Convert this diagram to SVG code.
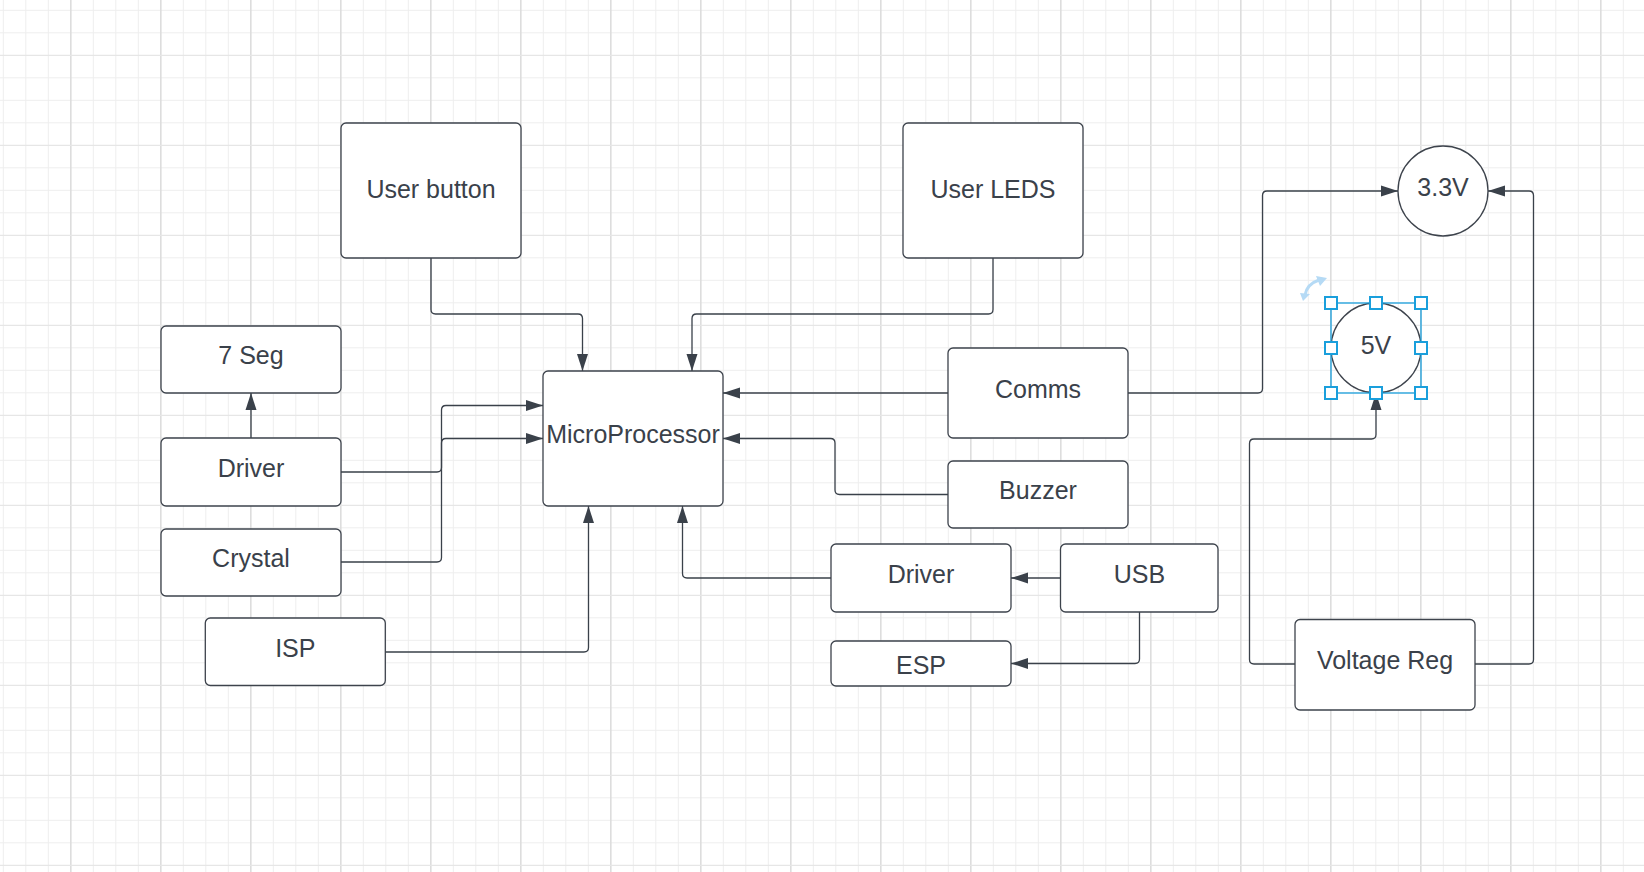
<svg xmlns="http://www.w3.org/2000/svg" width="1644" height="872" viewBox="0 0 1644 872">
<style>
.minor{stroke:#eeeeee;stroke-width:1;fill:none}
.major{stroke:#dddddd;stroke-width:1.6;fill:none}
.hmajor{stroke:#e6e6e6;stroke-width:1.3;fill:none}
.box{fill:#ffffff;stroke:#3d434c;stroke-width:1.3}
.lbl{font-family:"Liberation Sans",Arial,sans-serif;font-size:25px;fill:#3a414a;text-anchor:middle}
.edge{fill:none;stroke:#3a414a;stroke-width:1.3;marker-end:url(#arr)}
.sel{fill:none;stroke:#1a9fdc;stroke-width:1.3}
.hdl{fill:#ffffff;stroke:#1a9fdc;stroke-width:2}
</style>
<defs>
<marker id="arr" markerUnits="userSpaceOnUse" markerWidth="18" markerHeight="12" refX="17" refY="6" orient="auto">
<path d="M0,0.5 L17,6 L0,11.5 Z" fill="#3a414a"/>
</marker>
</defs>
<rect x="0" y="0" width="1644" height="872" fill="#ffffff"/>
<g id="grid">
<path class="minor" d="M3.3,0V872M25.8,0V872M48.3,0V872M93.3,0V872M115.8,0V872M138.3,0V872M183.3,0V872M205.8,0V872M228.3,0V872M273.3,0V872M295.8,0V872M318.3,0V872M363.3,0V872M385.8,0V872M408.3,0V872M453.3,0V872M475.8,0V872M498.3,0V872M543.3,0V872M565.8,0V872M588.3,0V872M633.3,0V872M655.8,0V872M678.3,0V872M723.3,0V872M745.8,0V872M768.3,0V872M813.3,0V872M835.8,0V872M858.3,0V872M903.3,0V872M925.8,0V872M948.3,0V872M993.3,0V872M1015.8,0V872M1038.3,0V872M1083.3,0V872M1105.8,0V872M1128.3,0V872M1173.3,0V872M1195.8,0V872M1218.3,0V872M1263.3,0V872M1285.8,0V872M1308.3,0V872M1353.3,0V872M1375.8,0V872M1398.3,0V872M1443.3,0V872M1465.8,0V872M1488.3,0V872M1533.3,0V872M1555.8,0V872M1578.3,0V872M1623.3,0V872"/>
<path class="minor" d="M0,10.3H1644M0,32.8H1644M0,77.8H1644M0,100.3H1644M0,122.8H1644M0,167.8H1644M0,190.3H1644M0,212.8H1644M0,257.8H1644M0,280.3H1644M0,302.8H1644M0,347.8H1644M0,370.3H1644M0,392.8H1644M0,437.8H1644M0,460.3H1644M0,482.8H1644M0,527.8H1644M0,550.3H1644M0,572.8H1644M0,617.8H1644M0,640.3H1644M0,662.8H1644M0,707.8H1644M0,730.3H1644M0,752.8H1644M0,797.8H1644M0,820.3H1644M0,842.8H1644"/>
<path class="major" d="M70.8,0V872M160.8,0V872M250.8,0V872M340.8,0V872M430.8,0V872M520.8,0V872M610.8,0V872M700.8,0V872M790.8,0V872M880.8,0V872M970.8,0V872M1060.8,0V872M1150.8,0V872M1240.8,0V872M1330.8,0V872M1420.8,0V872M1510.8,0V872M1600.8,0V872"/>
<path class="hmajor" d="M0,55.3H1644M0,145.3H1644M0,235.3H1644M0,325.3H1644M0,415.3H1644M0,505.3H1644M0,595.3H1644M0,685.3H1644M0,775.3H1644M0,865.3H1644"/>
</g>
<g id="connectors">
<path class="edge" d="M431,258 V309.5 Q431,314 435.5,314 H578 Q582.5,314 582.5,318.5 V371"/>
<path class="edge" d="M993,258 V309.5 Q993,314 988.5,314 H696.5 Q692,314 692,318.5 V371"/>
<path class="edge" d="M251,438 V393"/>
<path class="edge" d="M341,472 H437 Q441.5,472 441.5,467.5 V410 Q441.5,405.5 446,405.5 H543"/>
<path class="edge" d="M341,562 H437 Q441.5,562 441.5,557.5 V443 Q441.5,438.5 446,438.5 H543"/>
<path class="edge" d="M385,652 H584 Q588.5,652 588.5,647.5 V506"/>
<path class="edge" d="M831,578 H687 Q682.5,578 682.5,573.5 V506"/>
<path class="edge" d="M948,393 H723"/>
<path class="edge" d="M948,494.5 H839.5 Q835,494.5 835,490 V443 Q835,438.5 830.5,438.5 H723"/>
<path class="edge" d="M1060,578 H1011"/>
<path class="edge" d="M1139.5,612 V659 Q1139.5,663.5 1135,663.5 H1011"/>
<path class="edge" d="M1128,393 H1258 Q1262.5,393 1262.5,388.5 V195.5 Q1262.5,191 1267,191 H1398"/>
<path class="edge" d="M1475,664 H1529 Q1533.5,664 1533.5,659.5 V195.5 Q1533.5,191 1529,191 H1488"/>
<path class="edge" d="M1295,664 H1254 Q1249.5,664 1249.5,659.5 V443.5 Q1249.5,439 1254,439 H1371.5 Q1376,439 1376,434.5 V393"/>
</g>
<g id="user-button"><rect class="box" x="341" y="123" width="180" height="135" rx="5"/><text class="lbl" x="431" y="197.5">User button</text></g>
<g id="user-leds"><rect class="box" x="903" y="123" width="180" height="135" rx="5"/><text class="lbl" x="993" y="197.5">User LEDS</text></g>
<g id="seven-seg"><rect class="box" x="161" y="326" width="180" height="67" rx="5"/><text class="lbl" x="251" y="364">7 Seg</text></g>
<g id="driver-left"><rect class="box" x="161" y="438" width="180" height="68" rx="5"/><text class="lbl" x="251" y="476.7">Driver</text></g>
<g id="crystal"><rect class="box" x="161" y="529" width="180" height="67" rx="5"/><text class="lbl" x="251" y="566.7">Crystal</text></g>
<g id="isp"><rect class="box" x="205.3" y="618" width="180" height="67.5" rx="5"/><text class="lbl" x="295.3" y="657.3">ISP</text></g>
<g id="microprocessor"><rect class="box" x="543" y="371" width="180" height="135" rx="5"/><text class="lbl" x="633" y="442.7">MicroProcessor</text></g>
<g id="comms"><rect class="box" x="948" y="348" width="180" height="90" rx="5"/><text class="lbl" x="1038" y="397.7">Comms</text></g>
<g id="buzzer"><rect class="box" x="948" y="461" width="180" height="67" rx="5"/><text class="lbl" x="1038" y="499.3">Buzzer</text></g>
<g id="driver-right"><rect class="box" x="831" y="544" width="180" height="68" rx="5"/><text class="lbl" x="921" y="583.3">Driver</text></g>
<g id="usb"><rect class="box" x="1060.5" y="544" width="157.5" height="68" rx="5"/><text class="lbl" x="1139.5" y="583.3">USB</text></g>
<g id="esp"><rect class="box" x="831" y="641" width="180" height="45" rx="5"/><text class="lbl" x="921" y="674.3">ESP</text></g>
<g id="v33"><circle class="box" cx="1443" cy="191" r="45"/><text class="lbl" x="1443" y="196">3.3V</text></g>
<g id="v5"><circle class="box" cx="1376" cy="348" r="45"/><text class="lbl" x="1376" y="353.5">5V</text></g>
<g id="voltage-reg"><rect class="box" x="1295" y="619.5" width="180" height="90.5" rx="5"/><text class="lbl" x="1385" y="669">Voltage Reg</text></g>
<g id="selection">
<rect class="sel" x="1331" y="303" width="90" height="90"/>
<rect class="hdl" x="1325" y="297" width="12" height="12"/>
<rect class="hdl" x="1370" y="297" width="12" height="12"/>
<rect class="hdl" x="1415" y="297" width="12" height="12"/>
<rect class="hdl" x="1325" y="342" width="12" height="12"/>
<rect class="hdl" x="1415" y="342" width="12" height="12"/>
<rect class="hdl" x="1325" y="387" width="12" height="12"/>
<rect class="hdl" x="1370" y="387" width="12" height="12"/>
<rect class="hdl" x="1415" y="387" width="12" height="12"/>
<path d="M1305,295 Q1307,284 1319,280" fill="none" stroke="#b5daf5" stroke-width="3"/>
<path d="M1316,276 L1327,278 L1320,286 Z" fill="#b5daf5"/>
<path d="M1300,293 L1310,294 L1303,301 Z" fill="#b5daf5"/>
</g>
</svg>
